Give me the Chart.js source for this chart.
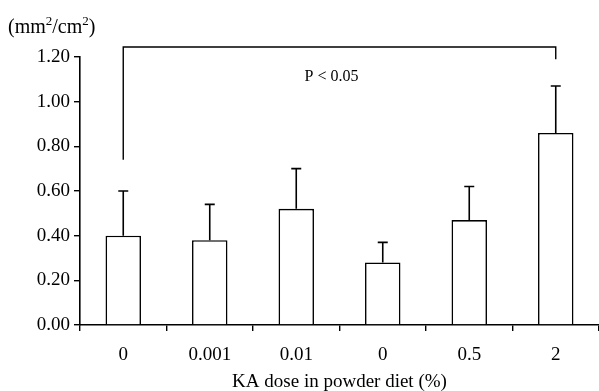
<!DOCTYPE html>
<html>
<head>
<meta charset="utf-8">
<script src="https://cdn.jsdelivr.net/npm/chart.js@4.4.1/dist/chart.umd.min.js"></script>
<style>
  html, body { margin: 0; padding: 0; background: #fff; }
  #wrap { width: 599px; height: 391px; }
</style>
</head>
<body>
<div id="wrap"><canvas id="chart" width="599" height="391"></canvas></div>
<script>
// values
const doses = ['0', '0.001', '0.01', '0', '0.5', '2'];
const means = [0.40, 0.38, 0.52, 0.28, 0.47, 0.86];
const errors = [0.20, 0.16, 0.18, 0.09, 0.15, 0.21]; // upper SD only
const yTicks = [0, 0.2, 0.4, 0.6, 0.8, 1.0, 1.2];

// significance bracket between first and last group
const bracketFrom = 0;
const bracketTo = 5;
const bracketLevel = 1.245;
const bracketLeftEnd = 0.74;
const bracketRightEnd = 1.19;
const pLabel = 'P < 0.05';
const pLabelLevel = 1.11;

const serif = '"Liberation Serif", "Times New Roman", serif';

const errorBars = {
    id: 'errorBars',
    afterDatasetsDraw(chart) {
        const ctx = chart.ctx;
        const y = chart.scales.y;
        const meta = chart.getDatasetMeta(0);
        ctx.save();
        ctx.strokeStyle = '#000';
        ctx.lineWidth = 1.6;
        meta.data.forEach((bar, i) => {
            const top = y.getPixelForValue(means[i] + errors[i]);
            ctx.beginPath();
            ctx.moveTo(bar.x, bar.y);
            ctx.lineTo(bar.x, top);
            ctx.moveTo(bar.x - 5, top);
            ctx.lineTo(bar.x + 5, top);
            ctx.stroke();
        });
        ctx.restore();
    }
};

// draws text with superscript parts, e.g. [['(mm'], ['2', true], ...]
function drawRich(ctx, parts, x, y, size, supSize) {
    ctx.textAlign = 'left';
    ctx.textBaseline = 'alphabetic';
    parts.forEach(([txt, sup]) => {
        ctx.font = (sup ? supSize : size) + 'px ' + serif;
        ctx.fillText(txt, x, sup ? y - size * 0.42 : y);
        x += ctx.measureText(txt).width;
    });
}

const annotations = {
    id: 'annotations',
    afterDraw(chart) {
        const ctx = chart.ctx;
        const y = chart.scales.y;
        const meta = chart.getDatasetMeta(0);
        const x1 = meta.data[bracketFrom].x;
        const x2 = meta.data[bracketTo].x;
        const yTop = y.getPixelForValue(bracketLevel);
        ctx.save();
        ctx.strokeStyle = '#000';
        ctx.lineWidth = 1.4;
        ctx.beginPath();
        ctx.moveTo(x1, y.getPixelForValue(bracketLeftEnd));
        ctx.lineTo(x1, yTop);
        ctx.lineTo(x2, yTop);
        ctx.lineTo(x2, y.getPixelForValue(bracketRightEnd));
        ctx.stroke();

        ctx.fillStyle = '#000';
        ctx.font = '16px ' + serif;
        ctx.textAlign = 'center';
        ctx.textBaseline = 'middle';
        ctx.fillText(pLabel, (x1 + x2) / 2 - 8, y.getPixelForValue(pLabelLevel));

        // unit label above the y axis
        drawRich(ctx, [['(mm'], ['2', true], ['/cm'], ['2', true], [')']], 8, 33, 20, 13);
        ctx.restore();
    }
};

new Chart(document.getElementById('chart'), {
    type: 'bar',
    data: {
        labels: doses,
        datasets: [{
            data: means,
            backgroundColor: '#fff',
            borderColor: '#000',
            borderWidth: 1.6,
            categoryPercentage: 1,
            barPercentage: 0.41
        }]
    },
    options: {
        responsive: false,
        animation: false,
        layout: { padding: { top: 57, right: 0, left: 0, bottom: 0 } },
        plugins: {
            legend: { display: false },
            tooltip: { enabled: false }
        },
        scales: {
            x: {
                afterFit(scale) { scale.height = 66; },
                grid: {
                    offset: true,
                    drawOnChartArea: false,
                    tickLength: 6,
                    color: '#000',
                    lineWidth: 1.4
                },
                border: { color: '#000', width: 1.6 },
                ticks: {
                    color: '#000',
                    padding: 13,
                    font: { family: serif, size: 19 }
                },
                title: {
                    display: true,
                    text: 'KA dose in powder diet (%)',
                    color: '#000',
                    padding: { top: 0, bottom: -2 },
                    font: { family: serif, size: 19 }
                }
            },
            y: {
                min: 0,
                max: 1.2,
                afterFit(scale) { scale.width = 80; },
                afterBuildTicks(scale) {
                    scale.ticks = yTicks.map(v => ({ value: v }));
                },
                grid: {
                    drawOnChartArea: false,
                    tickLength: 6,
                    color: '#000',
                    lineWidth: 1.4
                },
                border: { color: '#000', width: 1.6 },
                ticks: {
                    color: '#000',
                    padding: 4,
                    font: { family: serif, size: 19 },
                    callback: v => Number(v).toFixed(2)
                }
            }
        }
    },
    plugins: [errorBars, annotations]
});
</script>
</body>
</html>
